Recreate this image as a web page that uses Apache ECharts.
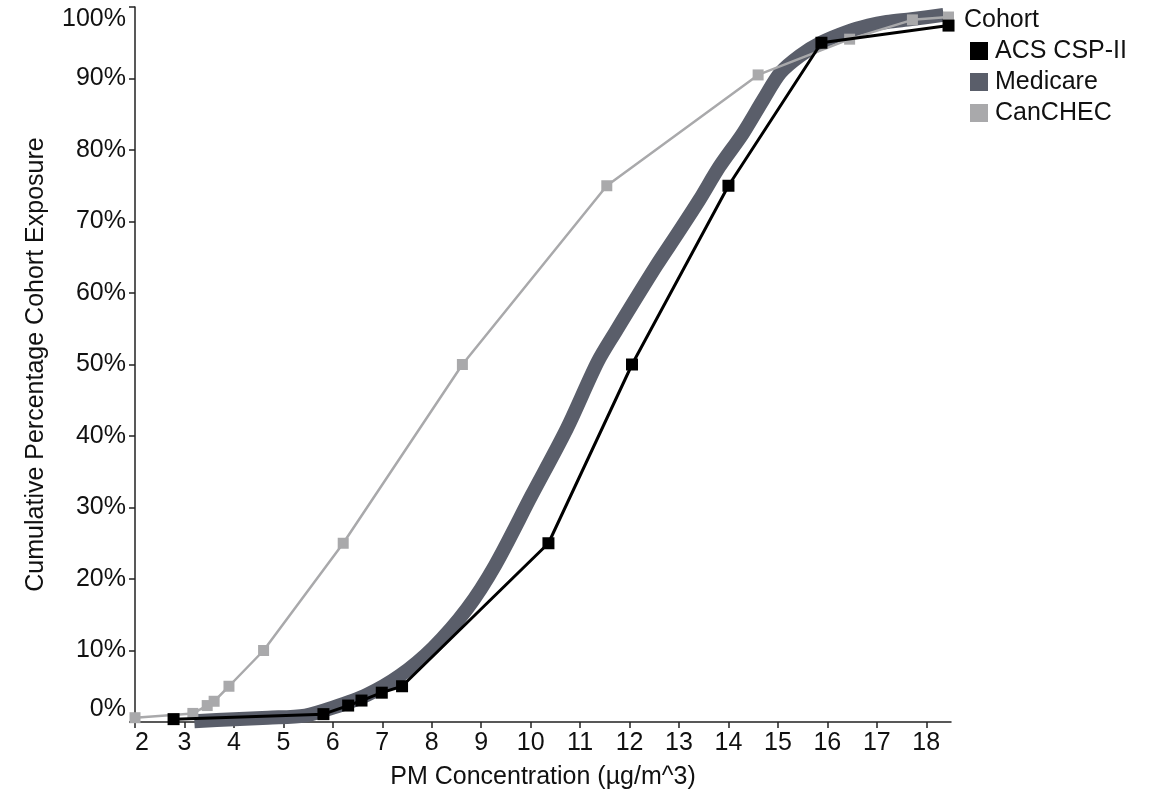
<!DOCTYPE html>
<html>
<head>
<meta charset="utf-8">
<script src="https://cdn.jsdelivr.net/npm/echarts@6/dist/echarts.min.js"></script>
<style>
  html, body { margin: 0; padding: 0; background: #ffffff; }
  #chart { width: 1156px; height: 795px; }
</style>
</head>
<body>
<div id="chart"></div>
<script>
// Cohort names (legend order)
var cohorts = ['ACS CSP-II', 'Medicare', 'CanCHEC'];

// [PM concentration (ug/m3), cumulative % of cohort]
var acsPoints = [
  [2.78, 0.4], [5.81, 1.1], [6.31, 2.3], [6.58, 3.0], [6.99, 4.1], [7.40, 5.0],
  [10.36, 25.0], [12.05, 50.0], [14.0, 75.0], [15.88, 95.0], [18.45, 97.4]
];
var medicarePoints = [
  [3.2, 0.1], [4.0, 0.4], [4.69, 0.6], [5.44, 0.9], [6.0, 2.0], [6.69, 3.8],
  [7.36, 6.5], [8.03, 10.4], [8.71, 15.8], [9.28, 21.9], [10.02, 31.7],
  [10.73, 41.0], [11.35, 50.3], [11.71, 54.5], [12.54, 63.8], [12.98, 68.4],
  [13.41, 73.0], [13.82, 77.7], [14.29, 82.3], [14.70, 87.0], [15.05, 90.8],
  [15.45, 93.2], [15.87, 95.0], [16.39, 96.5], [16.83, 97.4], [17.2, 97.9],
  [17.7, 98.3], [18.35, 98.9]
];
var canchecPoints = [
  [2.0, 0.6], [3.17, 1.2], [3.46, 2.3], [3.6, 2.9], [3.9, 5.0], [4.6, 10.0],
  [6.21, 25.0], [8.62, 50.0], [11.54, 75.0], [14.6, 90.5], [16.45, 95.5],
  [17.72, 98.2], [18.45, 98.6]
];

var xTicks = [2, 3, 4, 5, 6, 7, 8, 9, 10, 11, 12, 13, 14, 15, 16, 17, 18];

var FONT = '"Liberation Sans", Arial, sans-serif';
var colores = { acs: '#000000', medicare: '#5a5e6a', canchec: '#a9a9ab' };

var chart = echarts.init(document.getElementById('chart'));

chart.setOption({
  backgroundColor: '#ffffff',
  animation: false,
  title: {
    text: 'Cohort',
    left: 964,
    top: 8,
    padding: 0,
    textStyle: { fontFamily: FONT, fontSize: 25, fontWeight: 'normal', color: '#111' }
  },
  legend: {
    data: cohorts,
    orient: 'vertical',
    left: 970,
    top: 38,
    padding: 0,
    icon: 'rect',
    itemWidth: 18,
    itemHeight: 18,
    itemGap: 5,
    textStyle: { fontFamily: FONT, fontSize: 25, color: '#111', lineHeight: 26, padding: [0, 0, 0, 2] }
  },
  grid: { left: 135, right: 205, top: 7, bottom: 71 },
  xAxis: {
    type: 'value',
    min: 2,
    max: 18.5,
    interval: 1,
    name: 'PM Concentration (\u00b5g/m^3)',
    nameLocation: 'middle',
    nameGap: 43,
    nameTextStyle: { fontFamily: FONT, fontSize: 25, color: '#111' },
    axisLine: { show: true, onZero: false, lineStyle: { color: '#222', width: 1.5 } },
    axisTick: { show: true, length: 6, customValues: xTicks, lineStyle: { color: '#222', width: 1.5 } },
    axisLabel: {
      customValues: xTicks,
      margin: 9,
      fontFamily: FONT, fontSize: 25, color: '#111',
      alignMinLabel: 'left'
    },
    splitLine: { show: false }
  },
  yAxis: {
    type: 'value',
    min: 0,
    max: 100,
    interval: 10,
    name: 'Cumulative Percentage Cohort Exposure',
    nameLocation: 'middle',
    nameGap: 86,
    nameTextStyle: { fontFamily: FONT, fontSize: 25, color: '#111' },
    axisLine: { show: true, lineStyle: { color: '#222', width: 1.5 } },
    axisTick: { show: true, length: 6, lineStyle: { color: '#222', width: 1.5 } },
    axisLabel: {
      formatter: '{value}%',
      margin: 9,
      fontFamily: FONT, fontSize: 25, color: '#111',
      verticalAlignMinLabel: 'bottom',
      verticalAlignMaxLabel: 'top'
    },
    splitLine: { show: false }
  },
  series: [
    {
      name: 'ACS CSP-II',
      type: 'line',
      data: acsPoints,
      z: 4,
      color: colores.acs,
      symbol: 'rect',
      symbolSize: 12,
      lineStyle: { color: colores.acs, width: 3 },
      itemStyle: { color: colores.acs }
    },
    {
      // banda gruesa: en el original son cientos de marcadores superpuestos
      name: 'Medicare',
      type: 'line',
      data: medicarePoints,
      z: 2,
      color: colores.medicare,
      showSymbol: false,
      symbol: 'rect',
      smooth: 0.3,
      lineStyle: { color: colores.medicare, width: 14, join: 'round', cap: 'butt' },
      itemStyle: { color: colores.medicare }
    },
    {
      name: 'CanCHEC',
      type: 'line',
      data: canchecPoints,
      z: 3,
      color: colores.canchec,
      symbol: 'rect',
      symbolSize: 11,
      lineStyle: { color: colores.canchec, width: 2.5 },
      itemStyle: { color: colores.canchec }
    }
  ]
});
</script>
</body>
</html>
